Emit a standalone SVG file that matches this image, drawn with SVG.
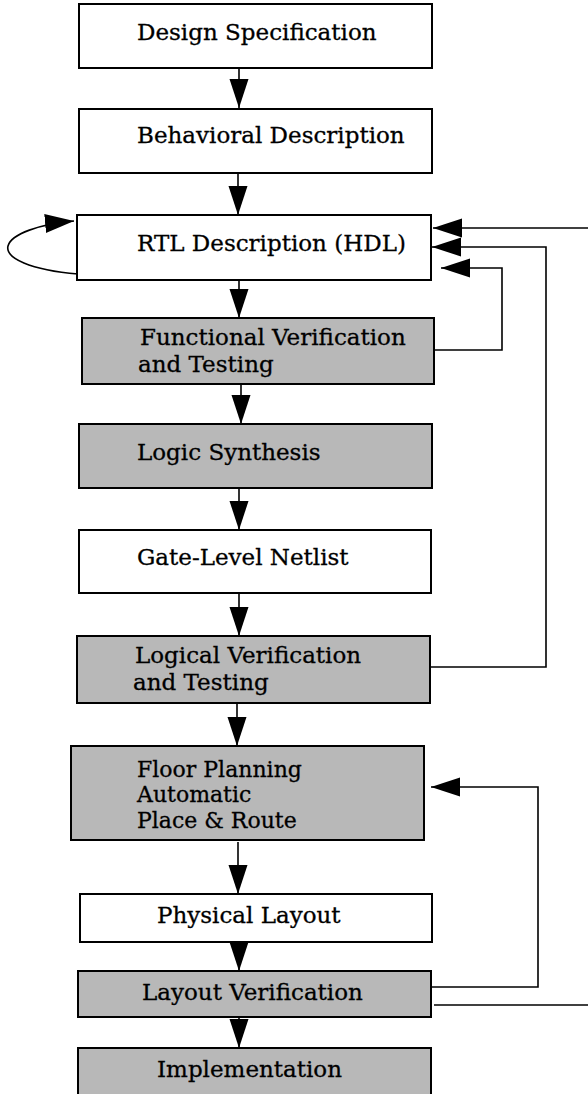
<svg xmlns="http://www.w3.org/2000/svg" width="588" height="1094" viewBox="0 0 588 1094">
<style>
  .box { stroke: #000; stroke-width: 2; }
  .white { fill: #fff; }
  .gray { fill: #b8b8b8; }
  .lbl { font-family: "DejaVu Serif", "Liberation Serif", serif; font-size: 23px; fill: #000; stroke: #000; stroke-width: 0.3; }
  .sm { font-size: 22px; }
  .conn { fill: none; stroke: #000; stroke-width: 1.6; }
</style>
<defs>
  <marker id="ah" markerUnits="userSpaceOnUse" markerWidth="30" markerHeight="20" refX="29" refY="9.5" orient="auto">
    <path d="M0,0 L29,9.5 L0,19 z" fill="#000"/>
  </marker>
</defs>
<rect width="588" height="1094" fill="#fff"/>

<g id="n-design">
  <rect class="box white" x="79" y="4" width="353" height="64"/>
  <text class="lbl" x="137" y="40">Design Specification</text>
</g>
<g id="n-behavioral">
  <rect class="box white" x="79" y="109" width="353" height="64"/>
  <text class="lbl" x="137" y="143">Behavioral Description</text>
</g>
<g id="n-rtl">
  <rect class="box white" x="77" y="215" width="354" height="65"/>
  <text class="lbl" x="137" y="251">RTL Description (HDL)</text>
</g>
<g id="n-functional">
  <rect class="box gray" x="82" y="318" width="352" height="66"/>
  <text class="lbl" x="140" y="345">Functional Verification</text>
  <text class="lbl" x="138" y="372">and Testing</text>
</g>
<g id="n-synthesis">
  <rect class="box gray" x="79" y="424" width="353" height="64"/>
  <text class="lbl" x="137" y="460">Logic Synthesis</text>
</g>
<g id="n-netlist">
  <rect class="box white" x="79" y="530" width="352" height="63"/>
  <text class="lbl" x="137" y="565">Gate-Level Netlist</text>
</g>
<g id="n-logical">
  <rect class="box gray" x="77" y="636" width="353" height="67"/>
  <text class="lbl" x="135" y="663">Logical Verification</text>
  <text class="lbl" x="133" y="690">and Testing</text>
</g>
<g id="n-floor">
  <rect class="box gray" x="71" y="746" width="353" height="94"/>
  <text class="lbl sm" x="137" y="777">Floor Planning</text>
  <text class="lbl sm" x="137" y="802">Automatic</text>
  <text class="lbl sm" x="137" y="828">Place &amp; Route</text>
</g>
<g id="n-physical">
  <rect class="box white" x="80" y="894" width="352" height="48"/>
  <text class="lbl" x="157" y="923">Physical Layout</text>
</g>
<g id="n-layoutver">
  <rect class="box gray" x="78" y="971" width="353" height="46"/>
  <text class="lbl" x="142" y="1000">Layout Verification</text>
</g>
<g id="n-impl">
  <rect class="box gray" x="78" y="1048" width="353" height="60"/>
  <text class="lbl" x="157" y="1077">Implementation</text>
</g>

<g id="connectors">
  <path class="conn" marker-end="url(#ah)" d="M239,68 V108"/>
  <path class="conn" marker-end="url(#ah)" d="M238,173 V215"/>
  <path class="conn" marker-end="url(#ah)" d="M239,280 V318"/>
  <path class="conn" marker-end="url(#ah)" d="M241,384 V424"/>
  <path class="conn" marker-end="url(#ah)" d="M239,488 V530"/>
  <path class="conn" marker-end="url(#ah)" d="M239,593 V636"/>
  <path class="conn" marker-end="url(#ah)" d="M237,704 V746"/>
  <path class="conn" marker-end="url(#ah)" d="M238,842 V894"/>
  <path class="conn" marker-end="url(#ah)" d="M239,942 V971"/>
  <path class="conn" marker-end="url(#ah)" d="M239,1018 V1048"/>
  <path class="conn" marker-end="url(#ah)" d="M78,274 C30,270 5,258 8,246 C11,234 40,224 74,221"/>
  <path class="conn" marker-end="url(#ah)" d="M588,228 H433"/>
  <path class="conn" marker-end="url(#ah)" d="M431,667 H546 V247 H432"/>
  <path class="conn" marker-end="url(#ah)" d="M435,350 H502 V268 H441"/>
  <path class="conn" marker-end="url(#ah)" d="M431,987 H538 V787 H431"/>
  <path class="conn" d="M434,1005 H588"/>
</g>
</svg>
